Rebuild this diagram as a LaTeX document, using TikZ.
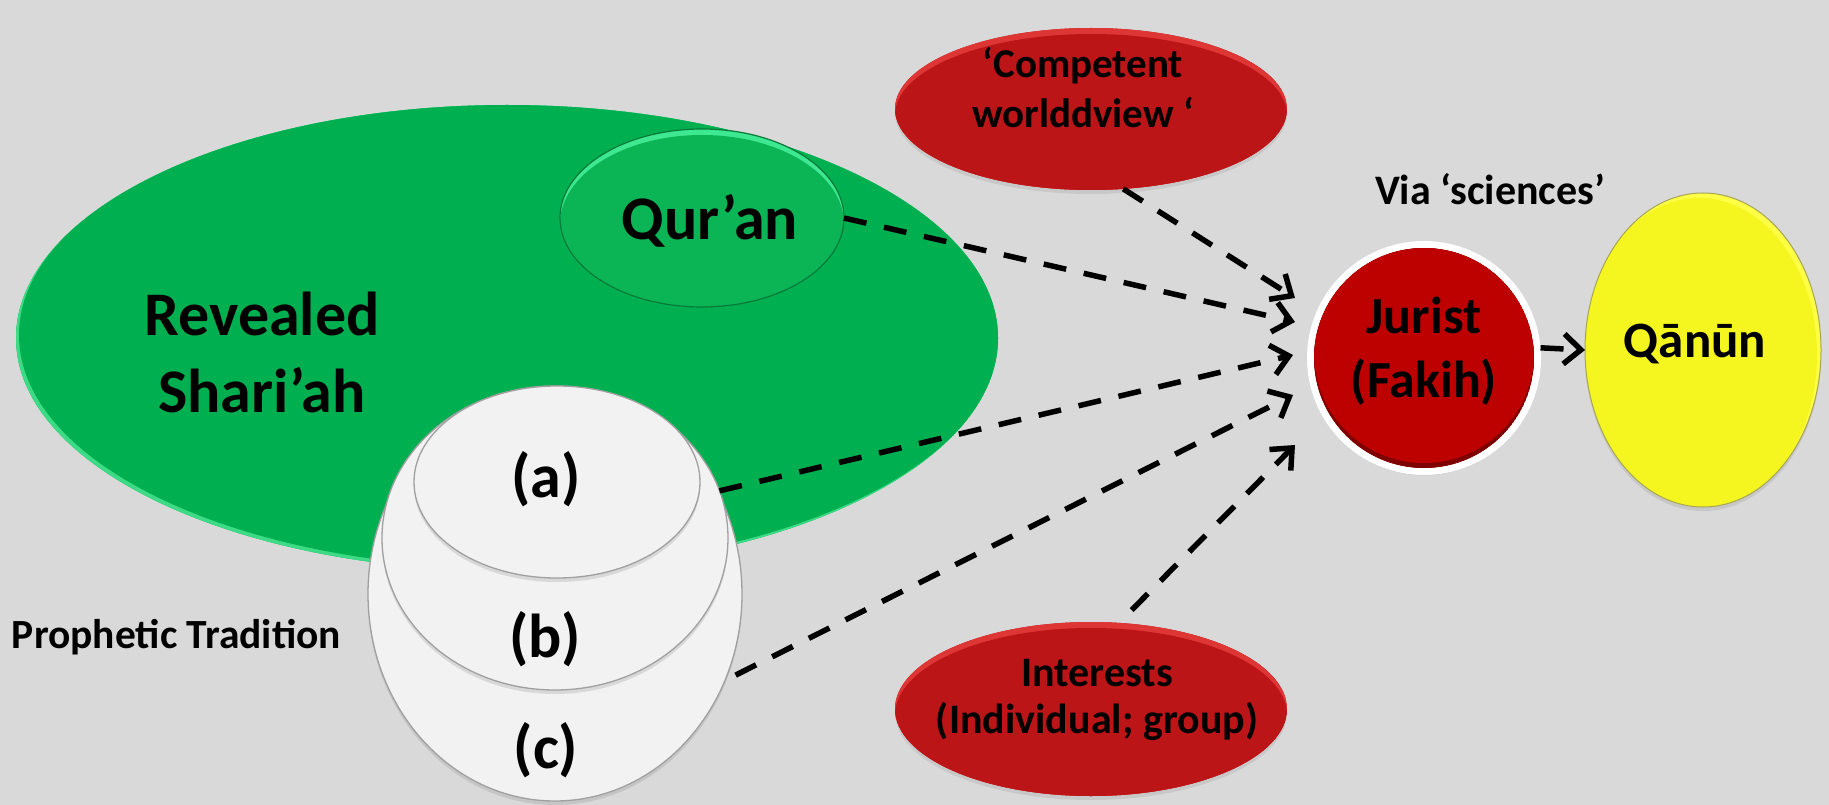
\documentclass[tikz,border=0pt]{standalone}
\usepackage{fontspec}
\setmainfont{Carlito}
\usetikzlibrary{arrows.meta,shapes.geometric,shadows}

\definecolor{bg}{HTML}{D9D9D9}
\definecolor{shgreen}{HTML}{00B050}
\definecolor{shrim}{HTML}{3DDB85}
\definecolor{qgreen}{HTML}{0BB455}
\definecolor{qrim}{HTML}{3EE890}
\definecolor{qedge}{HTML}{067A38}
\definecolor{plate}{HTML}{F2F2F2}
\definecolor{plateedge}{HTML}{A0A0A0}
\definecolor{ovalred}{HTML}{BC1518}
\definecolor{ovalrim}{HTML}{DE3535}
\definecolor{jred}{HTML}{BD0000}
\definecolor{jdark}{HTML}{7E0000}
\definecolor{yel}{HTML}{F5F520}
\definecolor{yelrim}{HTML}{FFFF45}
\definecolor{yeledge}{HTML}{A5A555}

% bevelled fill: centre x, centre y, x radius, y radius, rim colour, body colour, body shift
\newcommand{\ovalbevel}[7]{%
  \begin{scope}
    \clip (#1,#2) ellipse [x radius=#3pt, y radius=#4pt];
    \fill[#5] (#1,#2) ellipse [x radius=#3pt, y radius=#4pt];
    \fill[#6,#7] (#1,#2) ellipse [x radius=#3pt, y radius=#4pt];
  \end{scope}}

\begin{document}
\begin{tikzpicture}[x=1pt,y=-1pt,
  oval/.style={ellipse, inner sep=0pt, outer sep=0pt},
  lbl/.style={inner sep=0pt, outer sep=0pt, align=center, text=black},
  conn/.style={line width=5.5pt, dash pattern=on 23pt off 18pt,
    -{Straight Barb[length=17pt,width=30pt]}},
  plateshape/.style={oval, fill=plate, draw=plateedge, line width=1.3pt,
    drop shadow={opacity=0.22, shadow xshift=0pt, shadow yshift=-4pt}},
  redoval/.style={oval, fill=ovalred,
    drop shadow={opacity=0.18, shadow xshift=0pt, shadow yshift=-4pt}}
]
\useasboundingbox (0,0) rectangle (1829,805);
\fill[bg] (0,0) rectangle (1829,805);

% revealed law
\node[oval, fill=shgreen, minimum width=982pt, minimum height=466pt] (shariah) at (507,338) {};
\ovalbevel{507}{338}{491}{233}{shrim}{shgreen}{xshift=3pt,yshift=3pt}
\node[lbl, font=\bfseries\fontsize{62}{77}\selectfont] (lblShariah) at (262,352) {Revealed\\Shari’ah};

% Qur'an
\node[oval, fill=qgreen, minimum width=284pt, minimum height=178pt] (quran) at (702,218) {};
\ovalbevel{702}{218}{142}{89}{qrim}{qgreen}{yshift=-6pt}
\draw[qedge, line width=1.2pt] (quran.center) ellipse [x radius=142pt, y radius=89pt];
\node[lbl, font=\bfseries\fontsize{62}{77}\selectfont] (lblQuran) at (710,221) {Qur’an};

% stacked plates of the prophetic tradition
\node[plateshape, minimum width=374pt, minimum height=414pt] (sc) at (555,594) {};
\node[plateshape, minimum width=346pt, minimum height=304pt] (sb) at (555,538) {};
\node[plateshape, minimum width=286pt, minimum height=192pt] (sa) at (557,482) {};
\node[lbl, font=\bfseries\fontsize{62}{77}\selectfont] (lblA) at (546,479) {(a)};
\node[lbl, font=\bfseries\fontsize{62}{77}\selectfont] (lblB) at (545,639) {(b)};
\node[lbl, font=\bfseries\fontsize{62}{77}\selectfont] (lblC) at (546,750) {(c)};
\node[lbl, font=\bfseries\fontsize{41.5}{50}\selectfont, anchor=base west] (lblProph) at (12,648) {Prophetic Tradition};

% worldview and interests
\node[redoval, minimum width=392pt, minimum height=162pt] (comp) at (1091,109) {};
\ovalbevel{1091}{109}{196}{81}{ovalrim}{ovalred}{yshift=-6pt}
\node[lbl, font=\bfseries\fontsize{41}{50}\selectfont] (lblComp) at (1083,88) {‘Competent\\worlddview ‘};

\node[redoval, minimum width=392pt, minimum height=174pt] (intr) at (1091,709) {};
\ovalbevel{1091}{709}{196}{87}{ovalrim}{ovalred}{yshift=-6pt}
\node[lbl, font=\bfseries\fontsize{42}{47}\selectfont] (lblIntr) at (1097,700) {Interests\\(Individual; group)};

% jurist
\node[circle, minimum size=227pt, inner sep=0pt, fill=jred, draw=white, line width=7pt,
  drop shadow={opacity=0.2, shadow xshift=0pt, shadow yshift=-4pt}] (jur) at (1424,358) {};
\ovalbevel{1424}{358}{110}{110}{jdark}{jred}{yshift=5pt}
\node[lbl, font=\bfseries\fontsize{52}{64}\selectfont] (lblJur) at (1424,351) {Jurist\\(Fakih)};
\node[lbl, font=\bfseries\fontsize{42}{50}\selectfont, anchor=base] (lblVia) at (1490,205) {Via ‘sciences’};

% law
\node[oval, fill=yel, minimum width=236pt, minimum height=314pt,
  drop shadow={opacity=0.2, shadow xshift=0pt, shadow yshift=-4pt}] (qan) at (1703,350) {};
\ovalbevel{1703}{350}{118}{157}{yelrim}{yel}{xshift=-4pt,yshift=-5pt}
\draw[yeledge, line width=1pt] (qan.center) ellipse [x radius=118pt, y radius=157pt];
\node[lbl, font=\bfseries\fontsize{51}{60}\selectfont] (lblQan) at (1695,344) {Qānūn};

% connectors
\coordinate (t1) at (1295,298);
\coordinate (t2) at (1295,322);
\coordinate (t3) at (1293,355);
\coordinate (t4) at (1293,395);
\coordinate (t5) at (1295,445);
\draw[conn] (comp.-68) -- (t1);
\draw[conn] (quran.east) -- (t2);
\draw[conn] (sb.16) -- (t3);
\draw[conn, shorten <=12pt] (sc.-27) -- (t4);
\draw[conn, shorten <=18pt] (intr.72) -- (t5);
\draw[conn] (jur.5) -- (qan.west);
\end{tikzpicture}
\end{document}
